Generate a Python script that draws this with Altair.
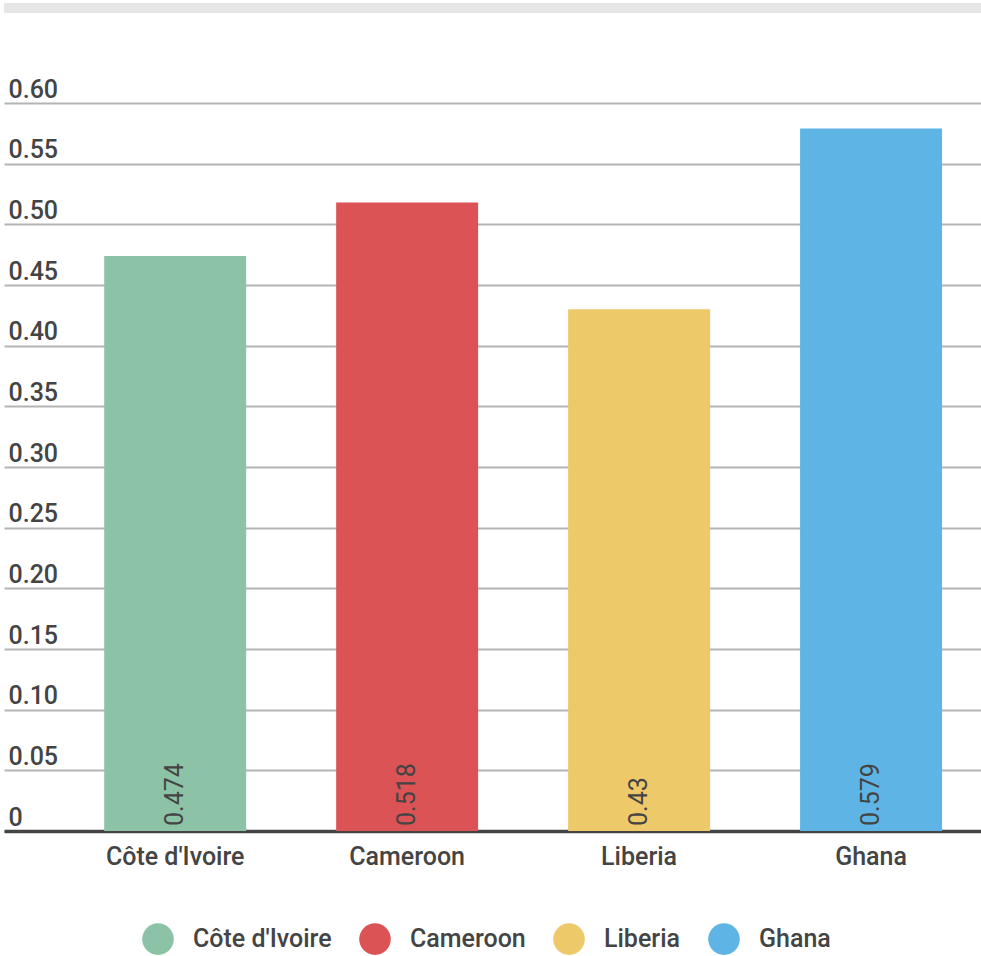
import altair as alt
import pandas as pd

countries = ["Côte d'Ivoire", "Cameroon", "Liberia", "Ghana"]
values = [0.474, 0.518, 0.43, 0.579]
labels = ["0.474", "0.518", "0.43", "0.579"]
colors = ["#8cc3a6", "#dc5355", "#eec96a", "#5eb5e5"]
y_ticks = [0, 0.05, 0.1, 0.15, 0.2, 0.25, 0.3, 0.35, 0.4, 0.45, 0.5, 0.55, 0.6]

df = pd.DataFrame({"country": countries, "value": values, "label": labels})

FONT = "Roboto"
TXT = "#444444"
FS = 25
FW = 500

x_enc = alt.X(
    "country:N",
    sort=countries,
    title=None,
    scale=alt.Scale(paddingInner=0.388, paddingOuter=0.3, align=0.72, round=False),
    axis=alt.Axis(
        labelAngle=0,
        labelFontSize=FS,
        labelFontWeight=FW,
        labelFont=FONT,
        labelColor=TXT,
        labelPadding=13,
        ticks=False,
        domain=True,
        domainColor="#444444",
        domainWidth=3.5,
        grid=False,
    ),
)

y_enc = alt.Y(
    "value:Q",
    title=None,
    scale=alt.Scale(domain=[0, 0.6], nice=False),
    axis=alt.Axis(
        values=y_ticks,
        labelExpr="datum.value == 0 ? '0' : format(datum.value, '.2f')",
        labelAlign="left",
        labelBaseline="alphabetic",
        labelPadding=-4,
        labelOffset=-6,
        tickSize=0,
        ticks=False,
        domain=False,
        grid=True,
        gridColor="#b4b4b4",
        gridWidth=2,
        labelFontSize=FS,
        labelFontWeight=FW,
        labelFont=FONT,
        labelColor=TXT,
    ),
)

bars = alt.Chart(df).mark_bar().encode(
    x=x_enc,
    y=y_enc,
    color=alt.Color(
        "country:N",
        sort=countries,
        scale=alt.Scale(domain=countries, range=colors),
        legend=alt.Legend(
            title=None,
            orient="none",
            legendX=138,
            legendY=820,
            direction="horizontal",
            symbolType="circle",
            symbolSize=1000,
            symbolStrokeWidth=0,
            symbolOpacity=1,
            labelFontSize=FS,
            labelFontWeight=FW,
            labelFont=FONT,
            labelColor=TXT,
            labelOffset=19,
            columnPadding=27,
            padding=0,
        ),
    ),
)

text = alt.Chart(df).mark_text(
    angle=270,
    align="left",
    baseline="middle",
    dx=5,
    fontSize=25,
    font=FONT,
    color=TXT,
).encode(
    x=alt.X("country:N", sort=countries),
    y=alt.datum(0),
    text="label:N",
)

topbar = alt.Chart(df).mark_rect(color="#e6e6e6").encode(
    x=alt.value(0), x2=alt.value(977), y=alt.value(-100), y2=alt.value(-90)
)

chart = alt.layer(topbar, bars, text).properties(
    width=977,
    height=728,
    padding={"left": 4, "right": 0, "top": 3, "bottom": 0},
).configure_view(stroke=None)

chart.save("out.html", embed_options={"renderer": "svg", "actions": False})
